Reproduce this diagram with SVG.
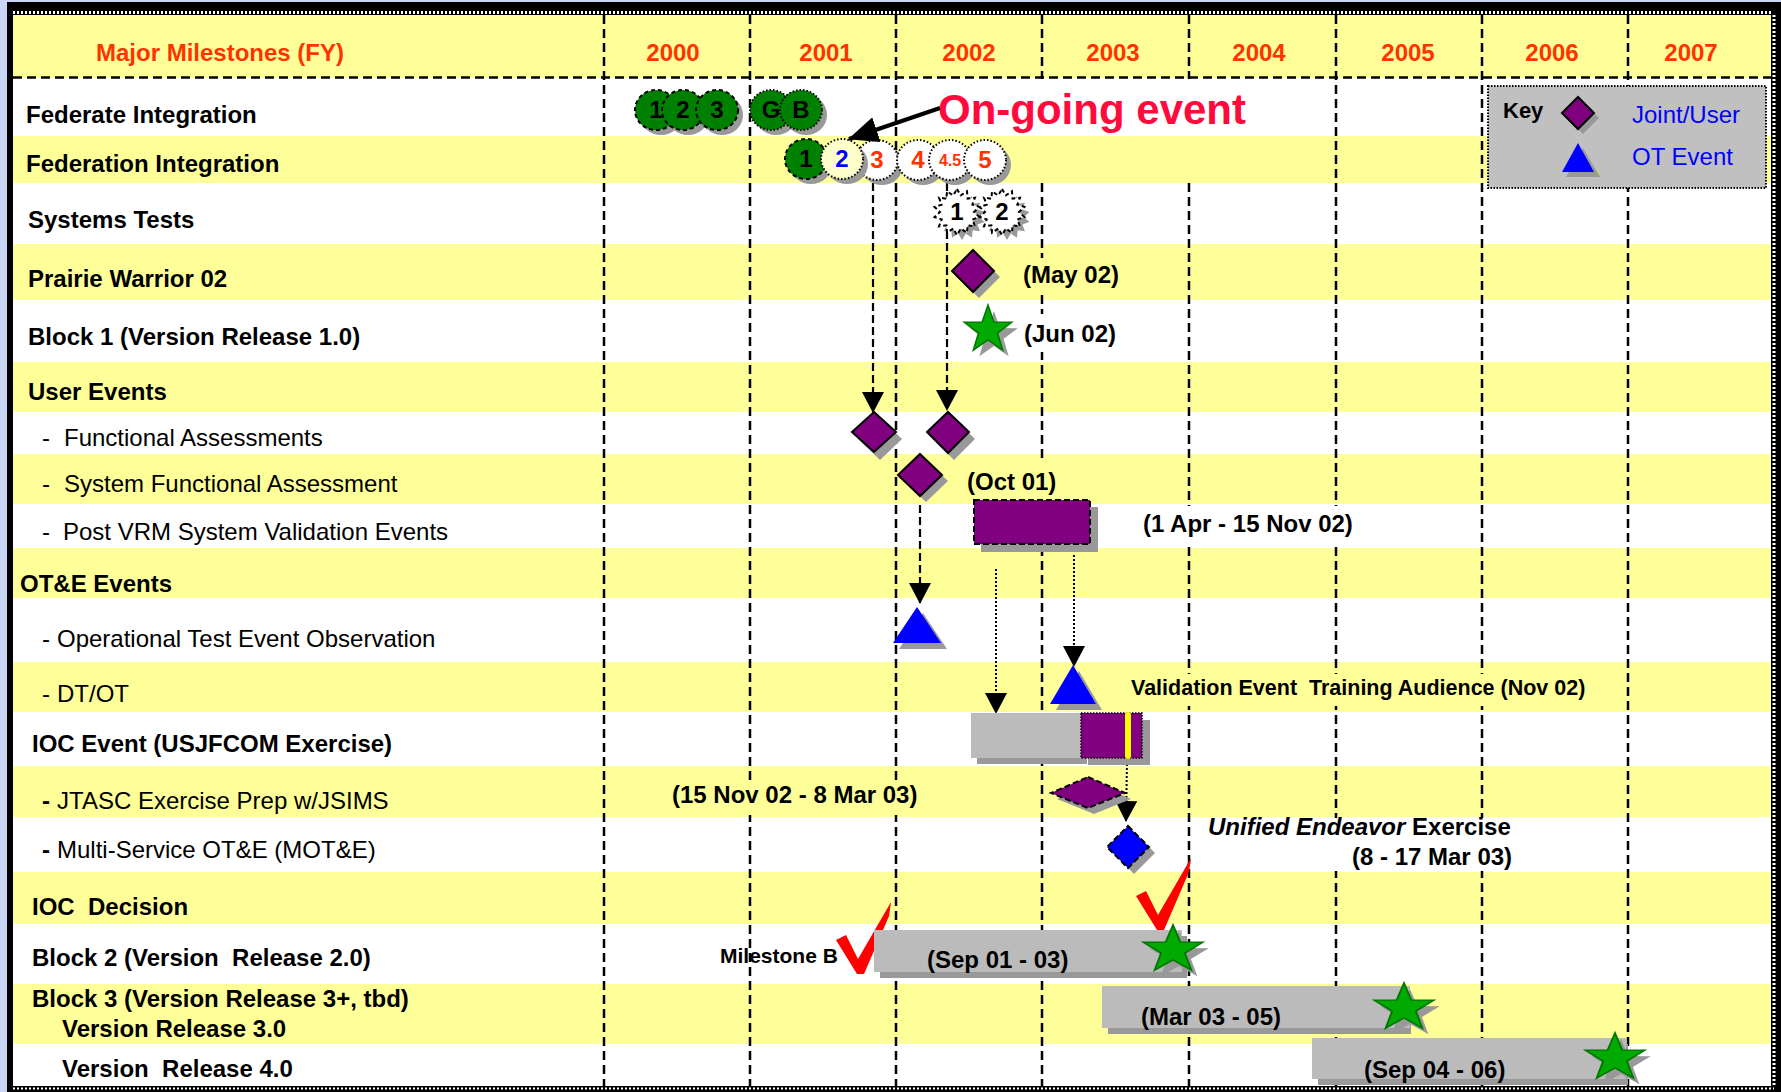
<svg xmlns="http://www.w3.org/2000/svg" width="1781" height="1092" viewBox="0 0 1781 1092">
<defs>
<style>
text{font-family:"Liberation Sans",Arial,Helvetica,sans-serif;font-size:24px;fill:#000}
.b{font-weight:bold}
.yr{font-weight:bold;fill:#FF3300;text-anchor:middle}
.yel{fill:#FFFF99}
.wht{fill:#FFFFFF}
.grid{stroke:#000;stroke-width:2.5;stroke-dasharray:9 5;fill:none}
.sh{fill:#999999}
.gc{fill:#008000;stroke:#000;stroke-width:2;stroke-dasharray:4 3}
.gcd{fill:#008000;stroke:#000;stroke-width:2;stroke-dasharray:1.5 2}
.wc{fill:#FFFFFF;stroke:#000;stroke-width:2;stroke-dasharray:1.5 2}
.yc{fill:#FFFFCC;stroke:#000;stroke-width:2;stroke-dasharray:1.5 2}
.ct{font-weight:bold;text-anchor:middle}
.or{fill:#FF3300}
.bl{fill:#0000FF}
.dia{fill:#800080;stroke:#000;stroke-width:2}
.diad{fill:#800080;stroke:#000;stroke-width:2;stroke-dasharray:6 3}
.tri{fill:#0000FF}
.bar{fill:#BBBBBB}
.star{fill:#00AA00;stroke:#007700;stroke-width:1.5}
.chk{fill:#FF0000}
.dash{stroke:#000;stroke-width:2.2;stroke-dasharray:8 4;fill:none}
.dot{stroke:#000;stroke-width:2;stroke-dasharray:2 2;fill:none}
.burst{fill:#FFFFFF;stroke:#000;stroke-width:2;stroke-dasharray:4 3}
</style>
<marker id="ah" markerUnits="userSpaceOnUse" markerWidth="21" markerHeight="22" refX="20" refY="11" orient="auto" viewBox="0 0 21 22"><path d="M0,0 L21,11 L0,22 Z" fill="#000"/></marker>
<marker id="ahb" markerUnits="userSpaceOnUse" markerWidth="30" markerHeight="26" refX="29" refY="13" orient="auto" viewBox="0 0 30 26"><path d="M0,0 L30,13 L0,26 Z" fill="#000"/></marker>
<path id="star" d="M0,-25 L5.88,-8.09 L23.78,-7.73 L9.51,3.09 L14.69,20.23 L0,10 L-14.69,20.23 L-9.51,3.09 L-23.78,-7.73 L-5.88,-8.09 Z"/>
<path id="burst" d="M0,-23 L3.78,-16.57 L9.98,-20.72 L10.6,-13.29 L17.98,-14.34 L15.32,-7.38 L22.42,-5.12 L17,0 L22.42,5.12 L15.32,7.38 L17.98,14.34 L10.6,13.29 L9.98,20.72 L3.78,16.57 L0,23 L-3.78,16.57 L-9.98,20.72 L-10.6,13.29 L-17.98,14.34 L-15.32,7.38 L-22.42,5.12 L-17,0 L-22.42,-5.12 L-15.32,-7.38 L-17.98,-14.34 L-10.6,-13.29 L-9.98,-20.72 L-3.78,-16.57 Z"/>
<path id="check" d="M-24,-33 L-14,-38 L-2,-14 L31,-71 L29,-57 L4,1 L-3,1 Z"/>
</defs>

<!-- frame -->
<rect x="0" y="0" width="1781" height="1092" fill="#C9D7F5"/>
<rect x="7" y="2" width="1774" height="1090" fill="#000"/>
<rect x="13" y="15" width="1758" height="1071" fill="#FFFFFF"/>
<line x1="13" y1="12.5" x2="1771" y2="12.5" stroke="#FFF" stroke-width="3" stroke-dasharray="2 2"/>
<line x1="1774" y1="15" x2="1774" y2="1086" stroke="#FFF" stroke-width="3" stroke-dasharray="2 2"/>
<line x1="13" y1="1088.5" x2="1774" y2="1088.5" stroke="#FFF" stroke-width="2" stroke-dasharray="2 2"/>

<!-- row bands -->
<g id="bands">
<rect class="yel" x="13" y="15" width="1758" height="63"/>
<rect class="yel" x="13" y="136" width="1758" height="47"/>
<rect class="yel" x="13" y="244" width="1758" height="56"/>
<rect class="yel" x="13" y="362" width="1758" height="50"/>
<rect class="yel" x="13" y="454" width="1758" height="50"/>
<rect class="yel" x="13" y="548" width="1758" height="50"/>
<rect class="yel" x="13" y="662" width="1758" height="50"/>
<rect class="yel" x="13" y="766" width="1758" height="51"/>
<rect class="yel" x="13" y="872" width="1758" height="52"/>
<rect class="yel" x="13" y="984" width="1758" height="60"/>
</g>

<!-- grid -->
<g id="grid">
<line class="grid" x1="13" y1="77.5" x2="1771" y2="77.5"/>
<line class="grid" x1="604" y1="15" x2="604" y2="1086"/>
<line class="grid" x1="750" y1="15" x2="750" y2="1086"/>
<line class="grid" x1="896" y1="15" x2="896" y2="1086"/>
<line class="grid" x1="1042" y1="15" x2="1042" y2="1086"/>
<line class="grid" x1="1189" y1="15" x2="1189" y2="1086"/>
<line class="grid" x1="1336" y1="15" x2="1336" y2="1086"/>
<line class="grid" x1="1482" y1="15" x2="1482" y2="1086"/>
<line class="grid" x1="1628" y1="15" x2="1628" y2="1086"/>
</g>

<!-- header -->
<g id="header">
<text class="yr" x="220" y="61">Major Milestones (FY)</text>
<text class="yr" x="673" y="61">2000</text>
<text class="yr" x="826" y="61">2001</text>
<text class="yr" x="969" y="61">2002</text>
<text class="yr" x="1113" y="61">2003</text>
<text class="yr" x="1259" y="61">2004</text>
<text class="yr" x="1408" y="61">2005</text>
<text class="yr" x="1552" y="61">2006</text>
<text class="yr" x="1691" y="61">2007</text>
</g>

<!-- text backgrounds hiding grid -->
<g id="label-backs">
<rect class="wht" x="934" y="79" width="320" height="57"/>
<rect class="yel" x="934" y="136" width="320" height="47"/>
<rect class="yel" x="1018" y="258" width="102" height="34"/>
<rect class="wht" x="1018" y="314" width="102" height="38"/>
<rect class="yel" x="962" y="458" width="98" height="44"/>
<rect class="wht" x="1138" y="506" width="218" height="40"/>
<rect class="yel" x="1126" y="674" width="466" height="32"/>
<rect class="wht" x="1203" y="818" width="312" height="53"/>
<rect class="yel" x="668" y="782" width="254" height="33"/>
</g>

<!-- row labels -->
<g id="row-labels">
<text class="b" x="26" y="123">Federate Integration</text>
<text class="b" x="26" y="172">Federation Integration</text>
<text class="b" x="28" y="228">Systems Tests</text>
<text class="b" x="28" y="287">Prairie Warrior 02</text>
<text class="b" x="28" y="345">Block 1 (Version Release 1.0)</text>
<text class="b" x="28" y="400">User Events</text>
<text x="42" y="446">-<tspan x="64">Functional Assessments</tspan></text>
<text x="42" y="492">-<tspan x="64">System Functional Assessment</tspan></text>
<text x="42" y="540">-<tspan x="63">Post VRM System Validation Events</tspan></text>
<text class="b" x="20" y="592">OT&amp;E Events</text>
<text x="42" y="647">-<tspan x="57">Operational Test Event Observation</tspan></text>
<text x="42" y="702">-<tspan x="57">DT/OT</tspan></text>
<text class="b" x="32" y="752">IOC Event (USJFCOM Exercise)</text>
<text x="42" y="809"><tspan class="b">-</tspan><tspan x="57">JTASC Exercise Prep w/JSIMS</tspan></text>
<text x="42" y="858"><tspan class="b">-</tspan><tspan x="57">Multi-Service OT&amp;E (MOT&amp;E)</tspan></text>
<text class="b" x="32" y="915" xml:space="preserve">IOC  Decision</text>
<text class="b" x="32" y="966" xml:space="preserve">Block 2 (Version  Release 2.0)</text>
<text class="b" x="32" y="1007">Block 3 (Version Release 3+, tbd)</text>
<text class="b" x="62" y="1037">Version Release 3.0</text>
<text class="b" x="62" y="1077" xml:space="preserve">Version  Release 4.0</text>
</g>

<!-- connectors -->
<g id="connectors">
<line class="dash" x1="873" y1="183" x2="873" y2="412" marker-end="url(#ah)"/>
<line class="dash" x1="947" y1="183" x2="947" y2="410" marker-end="url(#ah)"/>
<line class="dash" x1="920" y1="505" x2="920" y2="603" marker-end="url(#ah)"/>
<line class="dot" x1="996" y1="569" x2="996" y2="713" marker-end="url(#ah)"/>
<line class="dot" x1="1074" y1="555" x2="1074" y2="666" marker-end="url(#ah)"/>
<line class="dot" x1="1127" y1="760" x2="1126" y2="821" marker-end="url(#ah)"/>
</g>

<!-- Federate Integration events -->
<g id="federate-events">
<ellipse class="sh" cx="661" cy="115" rx="21" ry="20"/>
<ellipse class="gc" cx="656" cy="110" rx="21" ry="20"/>
<text class="ct" x="656" y="118">1</text>
<ellipse class="sh" cx="688" cy="115" rx="21" ry="20"/>
<ellipse class="gc" cx="683" cy="110" rx="21" ry="20"/>
<text class="ct" x="683" y="118">2</text>
<ellipse class="sh" cx="722" cy="115" rx="21" ry="20"/>
<ellipse class="gc" cx="717" cy="110" rx="21" ry="20"/>
<text class="ct" x="717" y="118">3</text>
<ellipse class="sh" cx="776" cy="115" rx="21" ry="20"/>
<ellipse class="gcd" cx="771" cy="110" rx="21" ry="20"/>
<text class="ct" x="771" y="118">G</text>
<ellipse class="sh" cx="806" cy="115" rx="21" ry="20"/>
<ellipse class="gcd" cx="801" cy="110" rx="21" ry="20"/>
<text class="ct" x="801" y="118">B</text>
</g>

<!-- Federation Integration events -->
<g id="federation-events">
<ellipse class="sh" cx="811" cy="164" rx="21" ry="20"/>
<ellipse class="gc" cx="806" cy="159" rx="21" ry="20"/>
<text class="ct" x="806" y="167">1</text>
<ellipse class="sh" cx="882" cy="165" rx="21" ry="20"/>
<ellipse class="wc" cx="877" cy="160" rx="21" ry="20"/>
<text class="ct or" x="877" y="168">3</text>
<ellipse class="sh" cx="847" cy="164" rx="21" ry="20"/>
<ellipse class="yc" cx="842" cy="159" rx="21" ry="20"/>
<text class="ct bl" x="842" y="167">2</text>
<ellipse class="sh" cx="923" cy="165" rx="21" ry="20"/>
<ellipse class="wc" cx="918" cy="160" rx="21" ry="20"/>
<text class="ct or" x="918" y="168">4</text>
<ellipse class="sh" cx="955" cy="165" rx="21" ry="20"/>
<ellipse class="wc" cx="950" cy="160" rx="21" ry="20"/>
<text class="ct or" x="950" y="166" style="font-size:16px">4.5</text>
<ellipse class="sh" cx="990" cy="165" rx="21" ry="20"/>
<ellipse class="wc" cx="985" cy="160" rx="21" ry="20"/>
<text class="ct or" x="985" y="168">5</text>
</g>

<!-- On-going event callout -->
<g id="ongoing-callout">
<line x1="940" y1="108" x2="849" y2="139" stroke="#000" stroke-width="4" marker-end="url(#ahb)"/>
<text class="b" x="938" y="124" style="font-size:42px;fill:#FF0A3C">On-going event</text>
</g>

<!-- Systems Tests -->
<g id="systems-tests">
<use href="#burst" class="sh" x="962" y="217" stroke="none"/>
<use href="#burst" class="burst" x="957" y="212"/>
<text class="ct" x="957" y="220">1</text>
<use href="#burst" class="sh" x="1007" y="217" stroke="none"/>
<use href="#burst" class="burst" x="1002" y="212"/>
<text class="ct" x="1002" y="220">2</text>
</g>

<!-- Prairie Warrior 02 -->
<g id="prairie-warrior">
<polygon class="sh" points="979,256 1000,277 979,298 958,277"/>
<polygon class="dia" points="973,250 994,271 973,292 952,271"/>
<text class="b" x="1023" y="283">(May 02)</text>
</g>

<!-- Block 1 -->
<g id="block1">
<use href="#star" class="sh" x="994" y="336"/>
<use href="#star" class="star" x="988" y="330"/>
<text class="b" x="1024" y="342">(Jun 02)</text>
</g>

<!-- Functional Assessments -->
<g id="functional-assessments">
<polygon class="sh" points="880,418 902,439 880,460 858,439"/>
<polygon class="dia" points="874,412 896,432 874,452 852,432"/>
<polygon class="sh" points="954,418 975,439 954,460 933,439"/>
<polygon class="dia" points="948,412 969,432 948,453 927,432"/>
</g>

<!-- System Functional Assessment -->
<g id="system-functional-assessment">
<polygon class="sh" points="926,460 948,481 926,502 904,481"/>
<polygon class="dia" points="920,454 942,475 920,496 898,475"/>
<text class="b" x="967" y="490">(Oct 01)</text>
</g>

<!-- Post VRM -->
<g id="post-vrm">
<rect class="sh" x="981" y="507" width="117" height="45"/>
<rect x="974" y="500" width="116" height="44" fill="#800080" stroke="#000" stroke-width="2" stroke-dasharray="6 3"/>
<text class="b" x="1143" y="532">(1 Apr - 15 Nov 02)</text>
</g>

<!-- Operational Test Event Observation -->
<g id="ot-observation">
<polygon class="sh" points="923,613 947,649 899,649"/>
<polygon class="tri" points="917,607 941,643 893,643"/>
</g>

<!-- DT/OT -->
<g id="dt-ot">
<polygon class="sh" points="1079,671 1102,710 1056,710"/>
<polygon class="tri" points="1073,665 1096,704 1050,704"/>
<text class="b" x="1131" y="695" xml:space="preserve" style="font-size:21.5px">Validation Event  Training Audience (Nov 02)</text>
</g>

<!-- IOC Event -->
<g id="ioc-event">
<rect class="sh" x="977" y="719" width="110" height="45"/>
<rect class="bar" x="971" y="713" width="112" height="45"/>
<rect class="sh" x="1088" y="720" width="62" height="45"/>
<rect x="1081" y="713" width="61" height="45" fill="#800080" stroke="#000" stroke-width="1.5" stroke-dasharray="1.5 1.5"/>
<rect x="1125" y="712" width="6" height="47" rx="3" fill="#FFFF00"/>
</g>

<!-- JTASC -->
<g id="jtasc">
<polygon class="sh" points="1094,783 1131,799 1094,814 1057,799"/>
<polygon class="diad" points="1088,777 1125,793 1088,808 1051,793"/>
<text class="b" x="672" y="803">(15 Nov 02 - 8 Mar 03)</text>
</g>

<!-- MOT&E -->
<g id="mote">
<polygon class="sh" points="1134,832 1155,853 1134,874 1113,853"/>
<polygon points="1128,826 1149,847 1128,868 1107,847" fill="#0000FF" stroke="#000" stroke-width="2" stroke-dasharray="6 3"/>
<text class="b" x="1208" y="835"><tspan font-style="italic">Unified Endeavor</tspan> Exercise</text>
<text class="b" x="1352" y="865">(8 - 17 Mar 03)</text>
</g>

<!-- IOC Decision -->
<g id="ioc-decision">
<use href="#check" class="chk" x="860" y="973"/>
<use href="#check" class="chk" x="1160" y="929"/>
<text class="b" x="720" y="963" style="font-size:21px">Milestone B</text>
</g>

<!-- Block 2 -->
<g id="block2">
<rect class="sh" x="880" y="936" width="307" height="42"/>
<rect class="bar" x="874" y="930" width="308" height="42"/>
<text class="b" x="927" y="968">(Sep 01 - 03)</text>
<use href="#star" class="sh" transform="translate(1179,956) scale(1.25,1)"/>
<use href="#star" class="star" transform="translate(1173,950) scale(1.25,1)"/>
</g>

<!-- Block 3 -->
<g id="block3">
<rect class="sh" x="1108" y="992" width="303" height="42"/>
<rect class="bar" x="1102" y="986" width="308" height="42"/>
<text class="b" x="1141" y="1025">(Mar 03 - 05)</text>
<use href="#star" class="sh" transform="translate(1410,1014) scale(1.25,1)"/>
<use href="#star" class="star" transform="translate(1404,1008) scale(1.25,1)"/>
</g>

<!-- Version Release 4.0 -->
<g id="release4">
<rect class="sh" x="1318" y="1044" width="310" height="41"/>
<rect class="bar" x="1312" y="1038" width="314" height="41"/>
<text class="b" x="1364" y="1078">(Sep 04 - 06)</text>
<use href="#star" class="sh" transform="translate(1621,1064) scale(1.25,1)"/>
<use href="#star" class="star" transform="translate(1615,1058) scale(1.25,1)"/>
</g>

<!-- Key -->
<g id="key">
<rect x="1488" y="86" width="278" height="102" fill="#C0C0C0" stroke="#000" stroke-width="2" stroke-dasharray="1.5 1.5"/>
<text class="b" x="1503" y="118" style="font-size:22px">Key</text>
<polygon class="sh" points="1583,102 1599,118 1583,134 1567,118"/>
<polygon class="dia" points="1578,97 1594,113 1578,129 1562,113"/>
<text class="bl" x="1632" y="123">Joint/User</text>
<polygon class="sh" points="1583,148 1600,177 1566,177"/>
<polygon class="tri" points="1578,143 1594,172 1562,172"/>
<text class="bl" x="1632" y="165">OT Event</text>
</g>
</svg>
